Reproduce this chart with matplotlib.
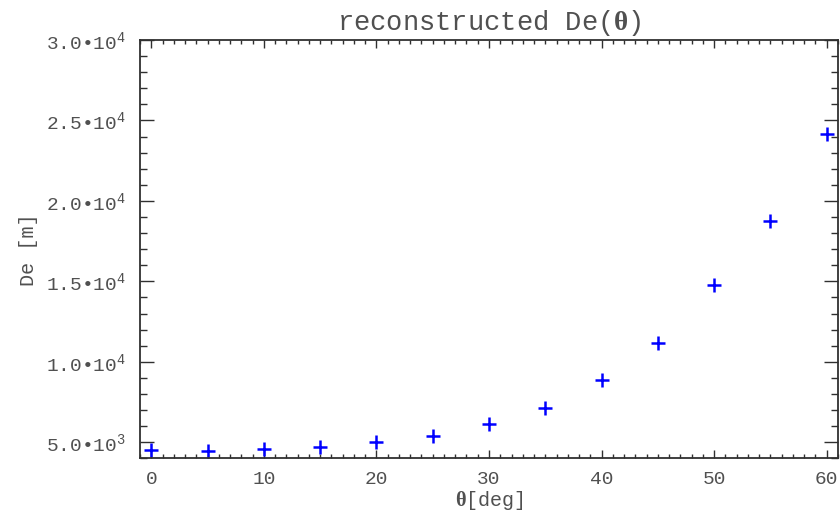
import numpy as np
import matplotlib
matplotlib.use("Agg")
import matplotlib.pyplot as plt
from matplotlib.ticker import MultipleLocator, FuncFormatter

# data
theta = [0, 5, 10, 15, 20, 25, 30, 35, 40, 45, 50, 55, 60]
de = [4500, 4470, 4580, 4720, 5030, 5400, 6110, 7110, 8890, 11150, 14770, 18770, 24140]

y_ticks = [5000, 10000, 15000, 20000, 25000, 30000]
y_labels = ["5.0•10$^{3}$", "1.0•10$^{4}$", "1.5•10$^{4}$",
            "2.0•10$^{4}$", "2.5•10$^{4}$", "3.0•10$^{4}$"]

plt.rcParams['font.family'] = ['Liberation Mono', 'DejaVu Sans']
plt.rcParams['mathtext.fontset'] = 'custom'
plt.rcParams['mathtext.rm'] = 'Liberation Mono'
plt.rcParams['mathtext.it'] = 'Liberation Mono'
plt.rcParams['mathtext.bf'] = 'Liberation Serif:bold'

txt = '#505050'
edge = '#303030'

fig = plt.figure(figsize=(8.4, 5.15), dpi=100)
ax = fig.add_axes([0.1667, 0.110, 0.8309, 0.8123])

ax.plot(theta, de, linestyle='none', marker='+', color='#0000ff',
        markersize=10, markeredgewidth=1.8)

ax.set_xlim(-1, 61)
ax.set_ylim(4000, 30000)

ax.xaxis.set_major_locator(MultipleLocator(10))
ax.xaxis.set_minor_locator(MultipleLocator(1))
ax.set_yticks(y_ticks)
ax.set_yticklabels(y_labels)
ax.yaxis.set_minor_locator(MultipleLocator(1000))

ax.tick_params(axis='both', which='both', direction='in', top=True, right=True,
               colors=edge, labelcolor=txt, labelsize=14, width=1.0)
ax.tick_params(axis='x', which='major', length=6, pad=9)
ax.tick_params(axis='x', which='minor', length=3)
ax.tick_params(axis='y', which='major', length=10, pad=10)
ax.tick_params(axis='y', which='minor', length=5)

for s in ax.spines.values():
    s.set_color(edge)
    s.set_linewidth(1.3)

ax.set_title(r'reconstructed De($\mathbf{\theta}$)', fontsize=19.5, color=txt, pad=7)
ax.set_xlabel(r'$\mathbf{\theta}$[deg]', fontsize=14.5, color=txt, labelpad=1)
ax.set_ylabel('De [m]', fontsize=14.5, color=txt, labelpad=6)

fig.savefig('out.png', dpi=100)
